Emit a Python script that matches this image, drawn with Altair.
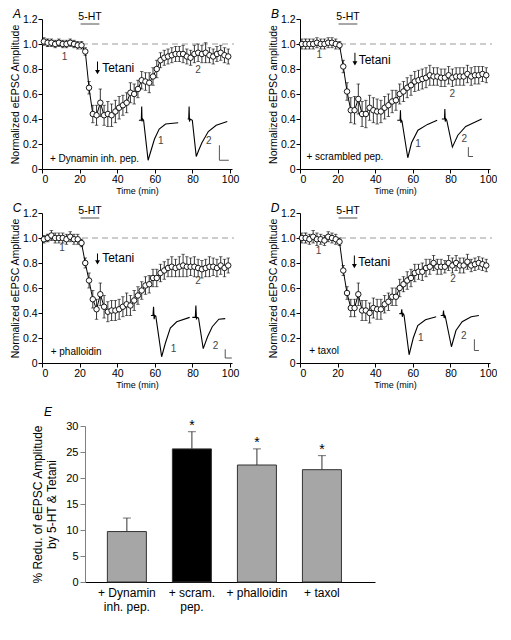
import altair as alt
import pandas as pd

FONT = "Liberation Sans"

# ---------------- data ----------------
TIME = [1, 3, 5, 7, 9, 11, 13, 15, 17, 19, 21, 23, 25, 27, 29, 31, 33, 35, 37, 39,
        41, 43, 45, 47, 49, 51, 53, 55, 57, 59, 61, 63, 65, 67, 69, 71, 73, 75, 77, 79,
        81, 83, 85, 87, 89, 91, 93, 95, 97, 99]

A_AMP = [1.02, 1.01, 1.01, 1.00, 1.01, 1.00, 1.00, 1.01, 1.00, 0.99,
         0.99, 0.94, 0.65, 0.44, 0.43, 0.53, 0.43, 0.44, 0.43, 0.46,
         0.49, 0.51, 0.53, 0.61, 0.60, 0.64, 0.71, 0.70, 0.69, 0.74,
         0.80, 0.87, 0.89, 0.90, 0.91, 0.92, 0.92, 0.92, 0.90, 0.89,
         0.92, 0.93, 0.92, 0.93, 0.91, 0.90, 0.92, 0.93, 0.91, 0.90]
A_ERR = [0.03, 0.03, 0.03, 0.03, 0.03, 0.03, 0.03, 0.03, 0.03, 0.03,
         0.03, 0.03, 0.05, 0.07, 0.08, 0.11, 0.08, 0.10, 0.09, 0.09,
         0.09, 0.08, 0.08, 0.08, 0.08, 0.07, 0.07, 0.07, 0.08, 0.07,
         0.07, 0.06, 0.06, 0.06, 0.06, 0.06, 0.06, 0.07, 0.06, 0.06,
         0.07, 0.07, 0.07, 0.08, 0.06, 0.06, 0.06, 0.06, 0.06, 0.06]

B_AMP = [1.00, 1.00, 1.00, 1.00, 1.01, 1.00, 1.00, 1.01, 1.01, 1.00,
         0.99, 0.82, 0.62, 0.47, 0.47, 0.56, 0.44, 0.44, 0.49, 0.47,
         0.46, 0.46, 0.49, 0.51, 0.54, 0.55, 0.60, 0.62, 0.65, 0.67,
         0.70, 0.71, 0.72, 0.73, 0.75, 0.74, 0.74, 0.73, 0.73, 0.75,
         0.73, 0.74, 0.74, 0.74, 0.76, 0.74, 0.75, 0.75, 0.76, 0.75]
B_ERR = [0.04, 0.04, 0.04, 0.04, 0.04, 0.04, 0.04, 0.04, 0.04, 0.04,
         0.03, 0.05, 0.07, 0.10, 0.11, 0.12, 0.10, 0.11, 0.10, 0.10,
         0.10, 0.09, 0.09, 0.09, 0.09, 0.08, 0.08, 0.08, 0.08, 0.08,
         0.08, 0.08, 0.08, 0.08, 0.08, 0.07, 0.07, 0.07, 0.07, 0.07,
         0.07, 0.07, 0.07, 0.07, 0.07, 0.07, 0.07, 0.07, 0.06, 0.06]

C_AMP = [0.99, 1.00, 1.02, 1.00, 1.00, 1.00, 0.99, 1.01, 0.99, 0.99,
         0.96, 0.80, 0.66, 0.51, 0.43, 0.55, 0.45, 0.41, 0.42, 0.42,
         0.43, 0.45, 0.47, 0.46, 0.50, 0.54, 0.58, 0.62, 0.63, 0.68,
         0.68, 0.72, 0.74, 0.76, 0.77, 0.76, 0.77, 0.78, 0.77, 0.77,
         0.77, 0.76, 0.75, 0.76, 0.77, 0.77, 0.76, 0.78, 0.76, 0.78]
C_ERR = [0.03, 0.03, 0.04, 0.04, 0.04, 0.04, 0.04, 0.04, 0.04, 0.04,
         0.03, 0.04, 0.06, 0.07, 0.08, 0.09, 0.09, 0.08, 0.08, 0.08,
         0.08, 0.08, 0.09, 0.08, 0.08, 0.07, 0.07, 0.07, 0.07, 0.07,
         0.07, 0.07, 0.07, 0.07, 0.08, 0.07, 0.08, 0.09, 0.08, 0.07,
         0.08, 0.07, 0.07, 0.07, 0.08, 0.07, 0.07, 0.07, 0.07, 0.06]

D_AMP = [1.00, 1.00, 0.99, 1.01, 0.99, 0.99, 0.98, 1.01, 1.00, 0.99,
         0.97, 0.74, 0.56, 0.44, 0.44, 0.55, 0.42, 0.42, 0.40, 0.44,
         0.43, 0.43, 0.47, 0.49, 0.53, 0.53, 0.60, 0.63, 0.66, 0.68,
         0.72, 0.73, 0.73, 0.76, 0.77, 0.80, 0.77, 0.77, 0.77, 0.80,
         0.78, 0.80, 0.78, 0.78, 0.81, 0.78, 0.79, 0.80, 0.79, 0.78]
D_ERR = [0.04, 0.04, 0.04, 0.05, 0.05, 0.04, 0.04, 0.04, 0.04, 0.04,
         0.03, 0.04, 0.05, 0.07, 0.07, 0.09, 0.08, 0.08, 0.08, 0.08,
         0.08, 0.08, 0.07, 0.07, 0.07, 0.07, 0.07, 0.06, 0.07, 0.07,
         0.07, 0.06, 0.07, 0.07, 0.06, 0.06, 0.06, 0.06, 0.05, 0.06,
         0.06, 0.06, 0.06, 0.06, 0.06, 0.05, 0.05, 0.05, 0.05, 0.05]

# example EPSC traces (drawn in the panel's own time / amplitude units)
A_TR1_T = [51.5, 52.8, 53.0, 53.2, 53.5, 54.0, 56.4, 58.0, 59.8, 62.3, 65.7, 72.4]
A_TR1_Y = [0.39, 0.39, 0.50, 0.38, 0.40, 0.39, 0.07, 0.15, 0.24, 0.32, 0.36, 0.37]
A_TR2_T = [77.4, 78.0, 78.2, 78.4, 78.8, 79.9, 82.0, 83.3, 85.0, 88.4, 92.6, 98.5]
A_TR2_Y = [0.40, 0.40, 0.50, 0.38, 0.40, 0.39, 0.10, 0.15, 0.21, 0.30, 0.35, 0.38]
A_SB_T = [94.3, 94.3, 99.3]
A_SB_Y = [0.19, 0.07, 0.07]

B_TR1_T = [51.7, 53.2, 53.4, 53.6, 53.9, 54.2, 57.3, 59.3, 62.7, 67.8, 72.9]
B_TR1_Y = [0.39, 0.39, 0.47, 0.37, 0.39, 0.385, 0.09, 0.21, 0.31, 0.357, 0.39]
B_TR2_T = [75.4, 76.8, 77.0, 77.2, 77.6, 78.0, 81.0, 83.9, 88.1, 96.6]
B_TR2_Y = [0.40, 0.40, 0.48, 0.38, 0.40, 0.39, 0.175, 0.27, 0.34, 0.40]
B_SB_T = [89.5, 89.5, 92.0]
B_SB_Y = [0.175, 0.10, 0.10]

C_TR1_T = [57.9, 59.0, 59.3, 59.6, 60.0, 60.5, 63.6, 65.6, 68.2, 71.6, 78.5]
C_TR1_Y = [0.38, 0.38, 0.45, 0.35, 0.38, 0.375, 0.05, 0.16, 0.28, 0.33, 0.365]
C_TR2_T = [79.9, 81.5, 81.8, 82.1, 82.6, 83.2, 85.7, 88.0, 90.5, 94.0, 97.4]
C_TR2_Y = [0.365, 0.365, 0.46, 0.355, 0.365, 0.36, 0.115, 0.21, 0.29, 0.35, 0.355]
C_SB_T = [97.4, 97.4, 100.9]
C_SB_Y = [0.11, 0.04, 0.04]

D_TR1_T = [52.8, 53.8, 54.1, 54.4, 54.8, 55.3, 58.0, 60.2, 62.6, 66.7, 72.4]
D_TR1_Y = [0.395, 0.395, 0.43, 0.37, 0.395, 0.385, 0.066, 0.20, 0.30, 0.346, 0.37]
D_TR2_T = [74.8, 76.0, 76.3, 76.6, 77.0, 77.2, 80.5, 82.9, 86.2, 91.0, 95.1]
D_TR2_Y = [0.38, 0.38, 0.42, 0.36, 0.38, 0.375, 0.13, 0.26, 0.33, 0.37, 0.38]
D_SB_T = [92.7, 92.7, 95.1]
D_SB_Y = [0.19, 0.10, 0.10]

# panel E
NB = "\u00a0"
E_LABELS = ["+ Dynamin|inh. pep." + NB * 4, "+ scram.|pep." + NB * 7, "+ phalloidin", "+ taxol"]
E_VALUES = [9.7, 25.6, 22.5, 21.6]
E_ERRORS = [2.6, 3.3, 3.1, 2.7]
E_STARS = ["", "*", "*", "*"]
E_COLORS = ["#a6a6a6", "#000000", "#a6a6a6", "#a6a6a6"]

# panel annotations (in data units)
PANELS = {
    "A": dict(ytitle="Normalized eEPSC Amplitude", cond="+ Dynamin inh. pep.", cond_at=(4.2, 0.08),
              one=(12, 0.90), two=(83, 0.79), tet_t=29.5, tet=(0.86, 0.75), tet_txt=(32, 0.81),
              trl1=(63.1, 0.225), trl2=(88.7, 0.225)),
    "B": dict(ytitle="Normalized eEPSC amplitude", cond="+ scrambled pep.", cond_at=(3.4, 0.10),
              one=(10.2, 0.91), two=(81, 0.60), tet_t=29.2, tet=(0.93, 0.82), tet_txt=(31.2, 0.87),
              trl1=(62.7, 0.20), trl2=(87.3, 0.24)),
    "C": dict(ytitle="Normalized eEPSC Amplitude", cond="+ phalloidin", cond_at=(4.6, 0.09),
              one=(10.7, 0.92), two=(83, 0.66), tet_t=29.5, tet=(0.876, 0.78), tet_txt=(32, 0.84),
              trl1=(69.9, 0.11), trl2=(92.3, 0.14)),
    "D": dict(ytitle="Normalized eEPSC Amplitude", cond="+ taxol", cond_at=(4.9, 0.10),
              one=(9.8, 0.895), two=(81.3, 0.67), tet_t=28.9, tet=(0.86, 0.75), tet_txt=(30.9, 0.81),
              trl1=(64.2, 0.20), trl2=(87.0, 0.22)),
}
SERIES = {
    "A": (A_AMP, A_ERR, [(A_TR1_T, A_TR1_Y), (A_TR2_T, A_TR2_Y)], (A_SB_T, A_SB_Y)),
    "B": (B_AMP, B_ERR, [(B_TR1_T, B_TR1_Y), (B_TR2_T, B_TR2_Y)], (B_SB_T, B_SB_Y)),
    "C": (C_AMP, C_ERR, [(C_TR1_T, C_TR1_Y), (C_TR2_T, C_TR2_Y)], (C_SB_T, C_SB_Y)),
    "D": (D_AMP, D_ERR, [(D_TR1_T, D_TR1_Y), (D_TR2_T, D_TR2_Y)], (D_SB_T, D_SB_Y)),
}
HT_SPAN = (20.5, 30.5)
HT_LEVEL = 1.16
HT_TEXT_LEVEL = 1.215
BASELINE = 1.0
DASH_END = 102

W, H = 190, 150
XDOM = [0, 101]
YDOM = [0, 1.2]


def xq(field):
    return alt.X(f"{field}:Q",
                 scale=alt.Scale(domain=XDOM, nice=False, zero=False),
                 axis=alt.Axis(values=[0, 20, 40, 60, 80, 100], title="Time (min)",
                               titleFontSize=9, titlePadding=2, labelFontSize=10.5,
                               tickSize=4, labelPadding=1, grid=False))


def yq(field, title):
    return alt.Y(f"{field}:Q",
                 scale=alt.Scale(domain=YDOM, nice=False, zero=False),
                 axis=alt.Axis(values=[0, 0.2, 0.4, 0.6, 0.8, 1.0, 1.2],
                               labelExpr="datum.value == 0 ? '0' : format(datum.value, '.1f')",
                               title=title, titleFontSize=10.5, titlePadding=2,
                               labelFontSize=10.5, tickSize=4, labelPadding=1, grid=False))


def panel(letter):
    cfg = PANELS[letter]
    amp, err, traces, sbar = SERIES[letter]
    yt = cfg["ytitle"]

    df = pd.DataFrame({"t": TIME, "v": amp,
                       "lo": [a - e for a, e in zip(amp, err)],
                       "hi": [a + e for a, e in zip(amp, err)]})
    caps = pd.DataFrame({"t": TIME + TIME, "v": list(df["lo"]) + list(df["hi"])})

    dash = alt.Chart(pd.DataFrame({"t": [0], "t2": [DASH_END], "v": [BASELINE]})).mark_rule(
        color="#9a9a9a", strokeDash=[6, 4], strokeWidth=1).encode(
        x=xq("t"), x2="t2:Q", y=yq("v", yt))

    ebar = alt.Chart(df).mark_rule(color="black", strokeWidth=0.8).encode(
        x=xq("t"), y=yq("lo", yt), y2="hi:Q")
    ecap = alt.Chart(caps).mark_tick(orient="horizontal", size=3.5, thickness=0.8, color="black").encode(
        x=xq("t"), y=yq("v", yt))
    line = alt.Chart(df).mark_line(color="black", strokeWidth=1).encode(
        x=xq("t"), y=yq("v", yt))
    pts = alt.Chart(df).mark_point(shape="circle", filled=True, fill="white", stroke="black",
                                   strokeWidth=0.9, size=30, opacity=1).encode(
        x=xq("t"), y=yq("v", yt))

    rows = []
    for tid, (ts, ys) in enumerate(traces):
        for i, (t, v) in enumerate(zip(ts, ys)):
            rows.append({"t": t, "v": v, "id": tid, "o": i})
    tr = alt.Chart(pd.DataFrame(rows)).mark_line(color="black", strokeWidth=1.1).encode(
        x=xq("t"), y=yq("v", yt), detail="id:N", order="o:Q")
    sb = alt.Chart(pd.DataFrame({"t": sbar[0], "v": sbar[1], "o": [0, 1, 2]})).mark_line(
        color="#555555", strokeWidth=1).encode(x=xq("t"), y=yq("v", yt), order="o:Q")

    ht_bar = alt.Chart(pd.DataFrame({"t": [HT_SPAN[0]], "t2": [HT_SPAN[1]], "v": [HT_LEVEL]})).mark_rule(
        color="#777777", strokeWidth=1.3).encode(x=xq("t"), x2="t2:Q", y=yq("v", yt))
    ht_txt = alt.Chart(pd.DataFrame({"t": [sum(HT_SPAN) / 2], "v": [HT_TEXT_LEVEL], "label": ["5-HT"]})).mark_text(
        fontSize=10.5, font=FONT, baseline="middle", align="center", color="black").encode(
        x=xq("t"), y=yq("v", yt), text="label:N")

    top, bot = cfg["tet"]
    tet_line = alt.Chart(pd.DataFrame({"t": [cfg["tet_t"]], "v": [top], "v2": [bot + 0.03]})).mark_rule(
        color="black", strokeWidth=1).encode(x=xq("t"), y=yq("v", yt), y2="v2:Q")
    tet_head = alt.Chart(pd.DataFrame({"t": [cfg["tet_t"]], "v": [bot + 0.025]})).mark_point(
        shape="triangle-down", filled=True, color="black", size=24, opacity=1).encode(
        x=xq("t"), y=yq("v", yt))
    tet_txt = alt.Chart(pd.DataFrame({"t": [cfg["tet_txt"][0]], "v": [cfg["tet_txt"][1]], "label": ["Tetani"]})).mark_text(
        fontSize=12, font=FONT, baseline="middle", align="left", color="black").encode(
        x=xq("t"), y=yq("v", yt), text="label:N")

    lab = pd.DataFrame({"t": [cfg["one"][0], cfg["two"][0], cfg["trl1"][0], cfg["trl2"][0]],
                        "v": [cfg["one"][1], cfg["two"][1], cfg["trl1"][1], cfg["trl2"][1]],
                        "label": ["1", "2", "1", "2"]})
    labs = alt.Chart(lab).mark_text(fontSize=10, font=FONT, baseline="middle", align="center",
                                    color="#444444").encode(x=xq("t"), y=yq("v", yt), text="label:N")
    cond = alt.Chart(pd.DataFrame({"t": [cfg["cond_at"][0]], "v": [cfg["cond_at"][1]], "label": [cfg["cond"]]})).mark_text(
        fontSize=10, font=FONT, baseline="middle", align="left", color="black").encode(
        x=xq("t"), y=yq("v", yt), text="label:N")
    let = alt.Chart(pd.DataFrame({"label": [letter]})).mark_text(
        fontSize=12, font=FONT, fontStyle="italic", baseline="alphabetic", align="center", color="black").encode(
        x=alt.value(-25), y=alt.value(-1), text="label:N")

    return alt.layer(dash, ebar, ecap, line, pts, tr, sb, ht_bar, ht_txt, tet_line, tet_head,
                     tet_txt, labs, cond, let).properties(width=W, height=H)


def spacer():
    # tiny invisible cell used to anchor each row at its left edge
    return alt.Chart(pd.DataFrame({"k": [0]})).mark_point(opacity=0, size=1).encode(
        x=alt.value(0), y=alt.value(0)).properties(width=1, height=1)


# ---------------- panel E ----------------
edf = pd.DataFrame({"cond": E_LABELS, "val": E_VALUES,
                    "top": [v + e for v, e in zip(E_VALUES, E_ERRORS)], "star": E_STARS})

ex = alt.X("cond:N", sort=E_LABELS,
           scale=alt.Scale(paddingInner=0.4, paddingOuter=0.43, align=0.4),
           axis=alt.Axis(title=None, labelAngle=0, labelExpr="split(datum.label, '|')",
                         ticks=False, labelFontSize=12, labelPadding=5, labelLineHeight=14,
                         domainColor="black", labelColor="black", labelFont=FONT))


def ey(field):
    return alt.Y(f"{field}:Q", scale=alt.Scale(domain=[0, 30], nice=False),
                 axis=alt.Axis(values=[0, 5, 10, 15, 20, 25, 30],
                               title=["% Redu. of eEPSC Amplitude", "by 5-HT & Tetani"],
                               titleFontSize=12, titleFontWeight="normal", titlePadding=7,
                               titleLineHeight=14, labelFontSize=11, labelPadding=2, tickSize=5,
                               domainColor="#808080", tickColor="#808080", grid=False))


bars = alt.Chart(edf).mark_bar(stroke="#333333", strokeWidth=1).encode(
    x=ex, y=ey("val"),
    color=alt.Color("cond:N", scale=alt.Scale(domain=E_LABELS, range=E_COLORS), legend=None))
erule = alt.Chart(edf).mark_rule(color="#333333", strokeWidth=1).encode(x=ex, y=ey("val"), y2="top:Q")
ecap2 = alt.Chart(edf).mark_tick(orient="horizontal", size=8, thickness=1, color="#333333").encode(
    x=ex, y=ey("top"))
stars = alt.Chart(edf).mark_text(fontSize=14, font=FONT, baseline="alphabetic", align="center",
                                 dy=-2, color="black").encode(x=ex, y=ey("top"), text="star:N")
eletter = alt.Chart(pd.DataFrame({"label": ["E"]})).mark_text(
    fontSize=12, font=FONT, fontStyle="italic", baseline="alphabetic", align="center", color="black").encode(
    x=alt.value(-37), y=alt.value(-10), text="label:N")

panel_e = alt.layer(bars, erule, ecap2, stars, eletter).properties(width=290, height=156)

row1 = alt.hconcat(spacer(), alt.hconcat(panel("A"), panel("B"), spacing=29), spacing=0)
row2 = alt.hconcat(spacer(), alt.hconcat(panel("C"), panel("D"), spacing=29), spacing=0)
row3 = alt.hconcat(spacer(), panel_e, spacing=21)
top_block = alt.vconcat(row1, row2, spacing=6)

chart = alt.vconcat(top_block, row3, spacing=16).properties(
    padding={"left": 0, "top": 0, "right": 0, "bottom": 15}).configure_view(strokeWidth=0).configure_axis(
    domainColor="black", tickColor="black", labelColor="black", titleColor="black",
    labelFont=FONT, titleFont=FONT, titleFontWeight="normal", grid=False).configure_text(font=FONT)

chart.save("out.html", embed_options={"renderer": "svg", "actions": False})
